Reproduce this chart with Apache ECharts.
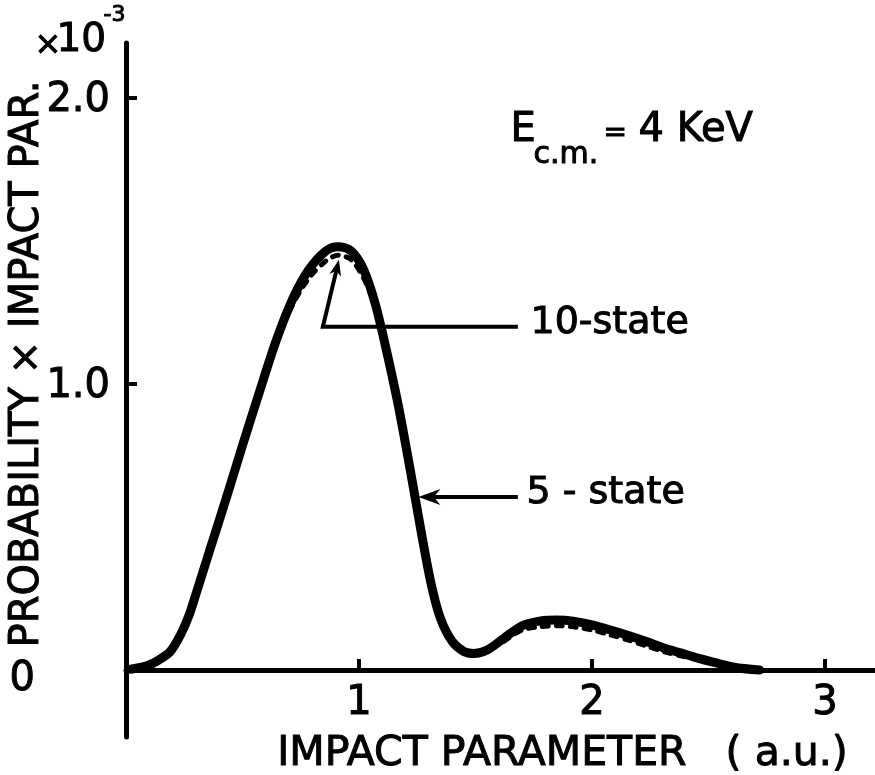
<!DOCTYPE html>
<html>
<head>
<meta charset="utf-8">
<script src="https://cdn.jsdelivr.net/npm/echarts@6/dist/echarts.min.js"></script>
<style>
  html, body { margin: 0; padding: 0; background: #fff; }
  #chart { width: 875px; height: 775px; }
</style>
</head>
<body>
<div id="chart"></div>
<script>
// Impact parameter (a.u.) sampled along the curves
const impactParam = [0.02, 0.09, 0.14, 0.19, 0.235, 0.27, 0.30, 0.356, 0.43, 0.50,
  0.57, 0.644, 0.717, 0.785, 0.858, 0.91, 0.966, 1.02, 1.07, 1.12,
  1.17, 1.22, 1.27, 1.31, 1.35, 1.40, 1.45, 1.494, 1.55, 1.62,
  1.70, 1.78, 1.85, 1.92, 2.00, 2.08, 2.16, 2.24, 2.31, 2.38,
  2.455, 2.52, 2.61, 2.72];

// Probability x impact parameter (units of 10^-3), 5-state expansion
const fiveState = [0.003, 0.015, 0.035, 0.065, 0.125, 0.19, 0.265, 0.41, 0.60, 0.785,
  0.965, 1.15, 1.30, 1.40, 1.465, 1.48, 1.465, 1.40, 1.28, 1.11,
  0.92, 0.70, 0.47, 0.30, 0.18, 0.10, 0.065, 0.058, 0.07, 0.11,
  0.155, 0.172, 0.175, 0.171, 0.158, 0.14, 0.12, 0.098, 0.077, 0.06,
  0.042, 0.028, 0.01, 0.0];

// Probability x impact parameter (units of 10^-3), 10-state expansion
const tenState = [0.003, 0.015, 0.035, 0.065, 0.125, 0.19, 0.265, 0.41, 0.60, 0.785,
  0.965, 1.15, 1.28, 1.37, 1.43, 1.45, 1.435, 1.37, 1.27, 1.11,
  0.92, 0.70, 0.47, 0.30, 0.18, 0.10, 0.065, 0.058, 0.07, 0.10,
  0.14, 0.152, 0.155, 0.151, 0.14, 0.123, 0.104, 0.083, 0.064, 0.05,
  0.036, 0.025, 0.008, 0.0];

const xTicks = [1, 2, 3];
const yTicks = [0, 1, 2];

const FONT = 'DejaVu Sans';
const INK = '#000';
const HEAVY = { textBorderColor: INK, textBorderWidth: 1 };

// distance (px) from the bottom of the plot frame up to the zero line
const ZERO_LIFT = 67;

const chart = echarts.init(document.getElementById('chart'), null, { renderer: 'canvas' });

const pairs = (xs, ys) => xs.map((x, i) => [x, ys[i]]);

chart.setOption({
  backgroundColor: '#fff',
  animation: false,
  grid: { left: 126, right: 0, top: 43, bottom: 38, containLabel: false, outerBoundsMode: 'none' },
  xAxis: {
    type: 'value',
    min: 0,
    max: 3.215,
    interval: 1,
    offset: -ZERO_LIFT,
    splitLine: { show: false },
    axisLine: { onZero: false, lineStyle: { color: INK, width: 5 } },
    axisTick: { inside: true, length: 11, lineStyle: { color: INK, width: 4 }, customValues: xTicks },
    axisLabel: Object.assign({
      customValues: xTicks,
      color: INK, fontFamily: FONT, fontSize: 40, margin: 14,
      formatter: v => String(v)
    }, HEAVY),
    name: 'IMPACT PARAMETER   ( a.u.)',
    nameLocation: 'middle',
    nameGap: 64,
    nameMoveOverlap: false,
    nameTextStyle: Object.assign({ color: INK, fontFamily: FONT, fontSize: 41, padding: [0, 0, 0, 124] }, HEAVY)
  },
  yAxis: {
    type: 'value',
    min: -0.234,
    max: 2.192,
    splitLine: { show: false },
    axisLine: { onZero: false, lineStyle: { color: INK, width: 5 } },
    axisTick: { inside: true, length: 11, lineStyle: { color: INK, width: 4 }, customValues: yTicks },
    axisLabel: Object.assign({
      customValues: yTicks,
      color: INK, fontFamily: FONT, fontSize: 40, margin: 16,
      padding: [6, 0, 0, 0],
      formatter: v => (v === 0 ? '{z|0}' : v.toFixed(1)),
      rich: { z: Object.assign({ color: INK, fontFamily: FONT, fontSize: 40, padding: [14, 75, 0, 0] }, HEAVY) }
    }, HEAVY),
    name: 'PROBABILITY × IMPACT PAR.',
    nameLocation: 'middle',
    nameRotate: 90,
    nameGap: 78,
    nameMoveOverlap: false,
    nameTextStyle: Object.assign({ color: INK, fontFamily: FONT, fontSize: 40, padding: [0, 0, 0, 52] }, HEAVY)
  },
  series: [
    {
      name: '5-state',
      type: 'line',
      smooth: 0.3,
      symbol: 'none',
      data: pairs(impactParam, fiveState),
      lineStyle: { color: INK, width: 9, cap: 'round', join: 'round' },
      z: 3
    },
    {
      name: '10-state',
      type: 'line',
      smooth: 0.3,
      symbol: 'none',
      data: pairs(impactParam, tenState),
      lineStyle: { color: INK, width: 5, type: [6, 8], cap: 'round' },
      z: 4
    }
  ]
});

// Annotations: energy label, axis multiplier and the two pointer arrows
const px = (x, y) => chart.convertToPixel({ gridIndex: 0 }, [x, y]);

function arrowHead(tip, from, len, half) {
  const dx = tip[0] - from[0], dy = tip[1] - from[1];
  const d = Math.hypot(dx, dy);
  const ux = dx / d, uy = dy / d;
  const bx = tip[0] - ux * len, by = tip[1] - uy * len;
  const nx = tip[0] - ux * len * 0.7, ny = tip[1] - uy * len * 0.7;
  return [tip, [bx - uy * half, by + ux * half], [nx, ny], [bx + uy * half, by - ux * half]];
}

const tenTip = px(0.914, 1.434);
const tenElbow = px(0.845, 1.20);
const tenEnd = px(1.682, 1.20);
const fiveTip = px(1.255, 0.605);
const fiveEnd = px(1.682, 0.605);

const textStyle = (extra) => Object.assign({ fill: INK, fontFamily: FONT, stroke: INK, lineWidth: 1 }, extra);

chart.setOption({
  graphic: [
    { type: 'text', left: 34, top: 29, style: textStyle({ text: '×', fontSize: 32 }) },
    { type: 'text', left: 56, top: 21, style: textStyle({ text: '10', fontSize: 39 }) },
    { type: 'text', left: 103, top: 4, style: textStyle({ text: '-3', fontSize: 22 }) },

    { type: 'text', left: 510, top: 110, style: textStyle({ text: 'E', fontSize: 40 }) },
    { type: 'text', left: 533, top: 140, style: textStyle({ text: 'c.m.', fontSize: 30 }) },
    { type: 'text', left: 603, top: 119, style: textStyle({ text: '=', fontSize: 28 }) },
    { type: 'text', left: 638, top: 110, style: textStyle({ text: '4 KeV', fontSize: 40 }) },

    { type: 'text', left: 530, top: 304, style: textStyle({ text: '10-state', fontSize: 38 }) },
    { type: 'text', left: 526, top: 474, style: textStyle({ text: '5 - state', fontSize: 38 }) },

    {
      type: 'polyline', z: 10,
      shape: { points: [arrowHead(tenTip, tenElbow, 14, 6)[2], tenElbow, tenEnd] },
      style: { stroke: INK, lineWidth: 4, fill: null }
    },
    {
      type: 'polygon', z: 10,
      shape: { points: arrowHead(tenTip, tenElbow, 16, 6) },
      style: { fill: INK }
    },
    {
      type: 'line', z: 10,
      shape: { x1: fiveEnd[0], y1: fiveEnd[1], x2: fiveTip[0] + 10, y2: fiveTip[1] },
      style: { stroke: INK, lineWidth: 4 }
    },
    {
      type: 'polygon', z: 10,
      shape: { points: arrowHead(fiveTip, fiveEnd, 22, 8) },
      style: { fill: INK }
    }
  ]
});
</script>
</body>
</html>
